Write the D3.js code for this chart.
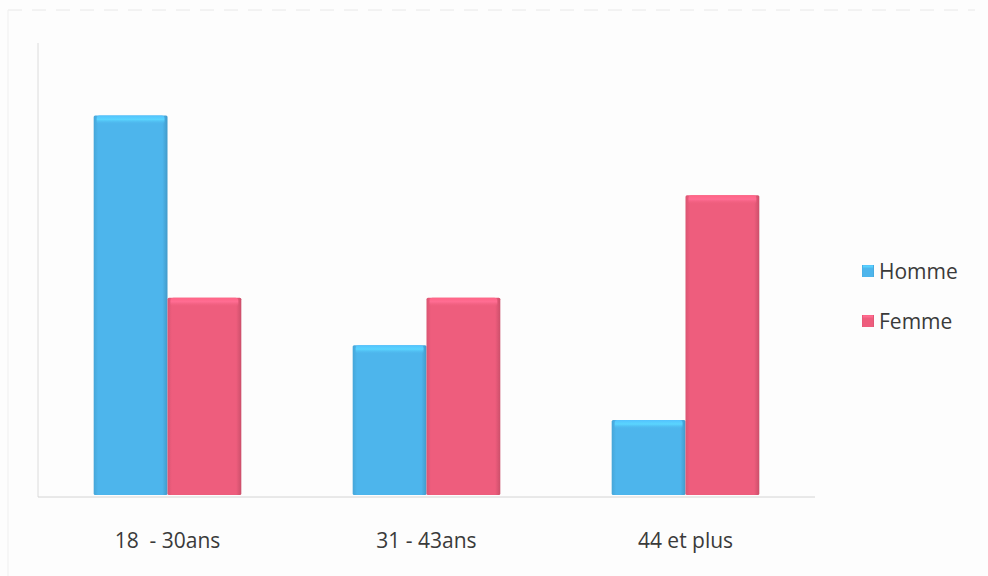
<!DOCTYPE html>
<html>
<head>
<meta charset="utf-8">
<script src="https://cdn.jsdelivr.net/npm/d3@7"></script>
<style>
  html, body { margin: 0; padding: 0; background: #fdfdfd; }
  svg { display: block; }
  text { font-family: "Open Sans", "Liberation Sans", sans-serif; fill: #3a3a3a; }
</style>
</head>
<body>
<svg id="chart" width="988" height="576"></svg>
<script>
// Age groups and counts per sex
const categories = ["18  - 30ans", "31 - 43ans", "44 et plus"];
const seriesNames = ["Homme", "Femme"];
const homme = [15.2, 6, 3];
const femme = [7.9, 7.9, 12];
const colors = { Homme: "#4db5ec", Femme: "#ee5d7d" };

const svg = d3.select("#chart");
const plot = { left: 38, right: 815, top: 43, bottom: 495 };

// gradients giving the bars a soft bevelled look
const defs = svg.append("defs");
seriesNames.forEach(n => {
  const c = d3.color(colors[n]);
  const side = defs.append("linearGradient").attr("id", "side-" + n)
    .attr("x1", 0).attr("x2", 1).attr("y1", 0).attr("y2", 0);
  side.append("stop").attr("offset", "0%").attr("stop-color", c.darker(0.25));
  side.append("stop").attr("offset", "6%").attr("stop-color", c);
  side.append("stop").attr("offset", "93%").attr("stop-color", c);
  side.append("stop").attr("offset", "100%").attr("stop-color", c.darker(0.45));
  const top = defs.append("linearGradient").attr("id", "top-" + n)
    .attr("x1", 0).attr("x2", 0).attr("y1", 0).attr("y2", 1);
  top.append("stop").attr("offset", "0%").attr("stop-color", c.brighter(0.2));
  top.append("stop").attr("offset", "45%").attr("stop-color", c.brighter(0.45));
  top.append("stop").attr("offset", "100%").attr("stop-color", c).attr("stop-opacity", 0);
});

// faint frame lines of the chart area
svg.append("line").attr("x1", 8).attr("x2", 975).attr("y1", 10).attr("y2", 10)
  .attr("stroke", "#e8e8e8").attr("stroke-dasharray", "14 10");
svg.append("line").attr("x1", 8).attr("x2", 8).attr("y1", 10).attr("y2", 576)
  .attr("stroke", "#efefef");

const x0 = d3.scaleBand().domain(categories).range([plot.left, plot.right])
  .paddingInner(0.43).paddingOuter(0.215);
const x1 = d3.scaleBand().domain(seriesNames).range([0, x0.bandwidth()]);
const y = d3.scaleLinear().domain([0, 18.1]).range([plot.bottom, plot.top]);

// axis lines
svg.append("line").attr("x1", plot.left).attr("x2", plot.left)
  .attr("y1", plot.top).attr("y2", plot.bottom + 2)
  .attr("stroke", "#dcdcdc");
svg.append("line").attr("x1", plot.left).attr("x2", plot.right)
  .attr("y1", plot.bottom + 2).attr("y2", plot.bottom + 2)
  .attr("stroke", "#d4d4d4");

const rows = categories.map((c, i) => ({ cat: c, values: [
  { name: "Homme", v: homme[i] }, { name: "Femme", v: femme[i] }] }));

const g = svg.append("g");
rows.forEach(r => {
  r.values.forEach(d => {
    const xs = x0(r.cat) + x1(d.name);
    const w = x1.bandwidth();
    const yt = y(d.v), yb = y(0);
    const bar = g.append("g");
    bar.append("rect").attr("x", xs).attr("y", yt).attr("width", w).attr("height", yb - yt)
      .attr("rx", 1.5).attr("fill", `url(#side-${d.name})`);
    bar.append("rect").attr("x", xs + 3).attr("y", yt).attr("width", w - 6).attr("height", 9)
      .attr("rx", 3).attr("fill", `url(#top-${d.name})`);
  });
});

// category labels
svg.append("g").selectAll("text").data(categories).join("text")
  .attr("x", d => x0(d) + x0.bandwidth() / 2)
  .attr("y", 548)
  .attr("text-anchor", "middle")
  .attr("font-size", 21)
  .style("white-space", "pre")
  .text(d => d);

// legend
const lg = svg.append("g").attr("transform", "translate(862,265)");
seriesNames.forEach((n, i) => {
  const row = lg.append("g").attr("transform", `translate(0,${i * 50})`);
  row.append("rect").attr("x", 0).attr("y", 0).attr("width", 12).attr("height", 12)
    .attr("fill", `url(#side-${n})`);
  row.append("rect").attr("x", 1).attr("y", 0).attr("width", 10).attr("height", 4)
    .attr("fill", `url(#top-${n})`);
  row.append("text").attr("x", 17).attr("y", 14).attr("font-size", 21).text(n);
});
</script>
</body>
</html>
